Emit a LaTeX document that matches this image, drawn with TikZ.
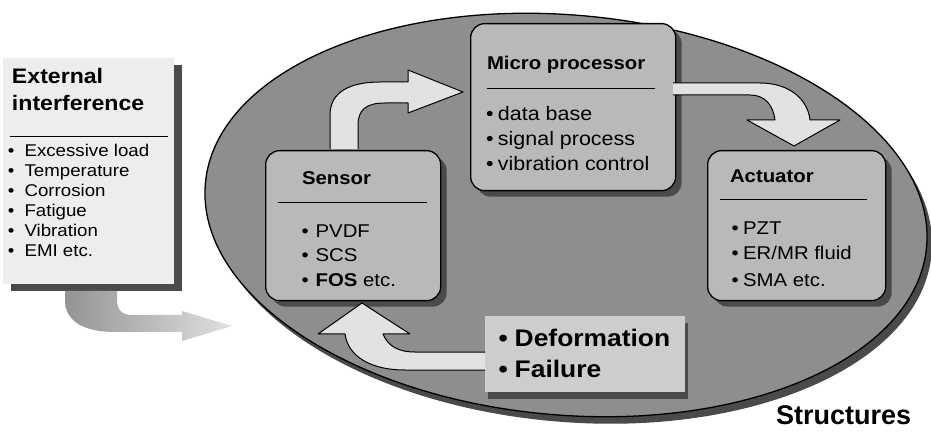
\documentclass[tikz,border=0pt]{standalone}
\usepackage{fontspec}
\setmainfont{Liberation Sans}[FakeStretch=1.1]
\newfontfamily\plainsf{Liberation Sans}
\usetikzlibrary{shadows}
\definecolor{ellgray}{HTML}{8E8E8E}
\definecolor{boxgray}{HTML}{B9B9B9}
\definecolor{arrgray}{HTML}{E2E2E2}
\definecolor{extgray}{HTML}{EDEDED}
\definecolor{defgray}{HTML}{CDCDCD}
\definecolor{shdgray}{HTML}{4A4A4A}
\tikzset{
  box/.style={draw=black, line width=1.3pt, rounded corners=14pt, fill=boxgray,
    drop shadow={shadow xshift=6pt, shadow yshift=-6pt, fill=shdgray, opacity=1}},
  flatbox/.style={draw=none, inner sep=0pt},
  blockarrow/.style={draw=black, line width=1pt, fill=arrgray, line join=round},
  txt/.style={anchor=base west, inner sep=0pt, outer sep=0pt},
  sep/.style={line width=0.8pt},
}
\begin{document}
\begin{tikzpicture}[x=1pt,y=-1pt]
\useasboundingbox (0,0) rectangle (931,443);
\fill[white] (0,0) rectangle (931,443);

% structure ellipse
\fill[shdgray, rotate around={-5:(571,222)}] (571,222) ellipse [x radius=362pt, y radius=200pt];
\draw[line width=1.3pt, fill=ellgray, rotate around={-5:(566,215)}] (566,215) ellipse [x radius=362pt, y radius=200pt];

% external interference box
\node[flatbox, fill=extgray, minimum width=171pt, minimum height=226pt, anchor=north west,
  drop shadow={shadow xshift=8pt, shadow yshift=-7pt, fill=shdgray, opacity=1}] (ext) at (3,58) {};
\draw[sep] (10,136) -- (168,136);

% external arrow
\shade[left color=black!42, right color=black!12]
  (65,291) -- (65,300) .. controls (65,322) and (85,332) .. (115,332) -- (182,332)
  -- (182,341) -- (232,326) -- (182,311) -- (182,315) -- (132,315)
  .. controls (122,315) and (117,310) .. (117,300) -- (117,291) -- cycle;

% boxes
\node[box, minimum width=205pt, minimum height=167pt, anchor=north west] (micro) at (470,23) {};
\node[box, minimum width=175pt, minimum height=150pt, anchor=north west] (sensor) at (265,150) {};
\node[box, minimum width=178pt, minimum height=150pt, anchor=north west] (actuator) at (707,150) {};
\node[flatbox, fill=defgray, minimum width=200pt, minimum height=76pt, anchor=north west,
  drop shadow={shadow xshift=3pt, shadow yshift=-7pt, fill=shdgray, opacity=1}] (def) at (485,316) {};

\draw[sep] (487,88) -- (655,88);
\draw[sep] (278,202) -- (427,202);
\draw[sep] (720,199) -- (867,199);

% block arrows
\draw[blockarrow] (330,149) -- (330,115) .. controls (330,92) and (350,82) .. (380,82)
  -- (408,82) -- (408,70) -- (463,92) -- (408,113) -- (408,103) -- (385,103)
  .. controls (366,103) and (358,110) .. (358,125) -- (358,149);
\draw[blockarrow] (673,83) -- (760,83) .. controls (790,83) and (808,100) .. (810,120)
  -- (840,120) -- (794,146) -- (747,120) -- (775,120)
  .. controls (773,105) and (765,95) .. (750,95) -- (673,95);
\draw[blockarrow] (485,370) -- (405,370) .. controls (370,370) and (348,356) .. (345,334)
  -- (318,334) -- (362,303) -- (410,334) -- (383,334)
  .. controls (388,346) and (398,352) .. (415,352) -- (485,352);

% texts: external
\node[txt, font=\bfseries\fontsize{21}{24}\selectfont] (extt1) at (12,84) {External};
\node[txt, font=\bfseries\fontsize{21}{24}\selectfont] (extt2) at (12,111) {interference};
\foreach \t [count=\i] in {Excessive load, Temperature, Corrosion, Fatigue, Vibration, EMI etc.}
  \node[txt, font=\fontsize{17}{20}\selectfont] (exti\i) at (8,137+20*\i) {•\hspace{10pt}\t};

% micro processor
\node[txt, font=\bfseries\fontsize{18.5}{22}\selectfont] (microt) at (487,70) {Micro processor};
\node[txt, font=\fontsize{19.5}{22}\selectfont] (micro1) at (486,121) {•\hspace{4.5pt}data base};
\node[txt, font=\fontsize{19.5}{22}\selectfont] (micro2) at (486,146) {•\hspace{4.5pt}signal process};
\node[txt, font=\fontsize{19.5}{22}\selectfont] (micro3) at (486,171) {•\hspace{4.5pt}vibration control};

% sensor
\node[txt, font=\bfseries\fontsize{18.5}{22}\selectfont] (sensort) at (302,185) {Sensor};
\node[txt, font=\fontsize{18.5}{22}\selectfont] (sensor1) at (301.5,238) {•\hspace{7pt}PVDF};
\node[txt, font=\fontsize{18.5}{22}\selectfont] (sensor2) at (301.5,262) {•\hspace{7pt}SCS};
\node[txt, font=\fontsize{18.5}{22}\selectfont] (sensor3) at (301.5,287) {•\hspace{7pt}\textbf{FOS} etc.};

% actuator
\node[txt, font=\bfseries\fontsize{18.5}{22}\selectfont] (actt) at (730,183) {Actuator};
\node[txt, font=\fontsize{18.5}{22}\selectfont] (act1) at (731.5,235) {•\hspace{4.5pt}PZT};
\node[txt, font=\fontsize{18.5}{22}\selectfont] (act2) at (731.5,260) {•\hspace{4.5pt}ER/MR fluid};
\node[txt, font=\fontsize{18.5}{22}\selectfont] (act3) at (731.5,287) {•\hspace{4.5pt}SMA etc.};

% deformation
\node[txt, font=\bfseries\fontsize{24}{28}\selectfont] (def1) at (498.5,346) {•\hspace{7pt}Deformation};
\node[txt, font=\bfseries\fontsize{24}{28}\selectfont] (def2) at (498.5,377) {•\hspace{7pt}Failure};

% structures
\node[txt, font=\plainsf\bfseries\fontsize{27}{30}\selectfont] (struct) at (776,424) {Structures};
\end{tikzpicture}
\end{document}
